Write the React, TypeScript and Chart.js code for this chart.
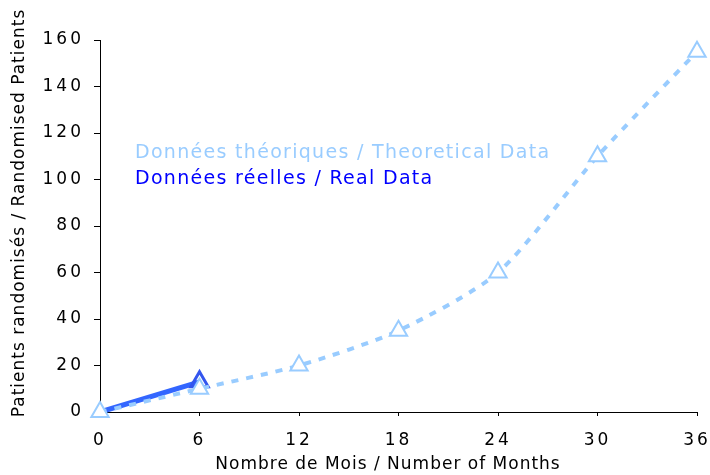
import React, { useEffect, useRef } from 'react';
import { Chart, registerables } from 'chart.js';

Chart.register(...registerables);

const months = [0, 6, 12, 18, 24, 30, 36];
const theoretical = [0, 10, 20, 35, 60, 110, 155];
const realMonths = [0, 6];
const realData = [0, 13];
const xTickValues = [0, 6, 12, 18, 24, 30, 36];
const yTickValues = [0, 20, 40, 60, 80, 100, 120, 140, 160];
const legendTheo = 'Données théoriques / Theoretical Data';
const legendReal = 'Données réelles / Real Data';
const xTitle = 'Nombre de Mois / Number of Months';
const yTitle = 'Patients randomisés / Randomised Patients';

const FONT = '"DejaVu Sans", Verdana, sans-serif';
const TICK_SPACING = '3px';

const textPlugin = {
  id: 'customText',
  beforeUpdate(chart: any) {
    chart.ctx.letterSpacing = TICK_SPACING;
  },
  beforeDraw(chart: any) {
    chart.ctx.letterSpacing = TICK_SPACING;
  },
  afterDraw(chart: any) {
    const ctx = chart.ctx as CanvasRenderingContext2D;
    ctx.save();
    ctx.textAlign = 'left';
    ctx.textBaseline = 'alphabetic';
    (ctx as any).letterSpacing = '1.3px';
    ctx.font = `19px ${FONT}`;
    ctx.fillStyle = '#99CCFF';
    ctx.fillText(legendTheo, 135, 158);
    ctx.fillStyle = '#0000FF';
    ctx.fillText(legendReal, 135, 183.5);

    (ctx as any).letterSpacing = '1px';
    ctx.fillStyle = '#000000';
    ctx.font = `17px ${FONT}`;
    ctx.textAlign = 'center';
    ctx.textBaseline = 'middle';
    ctx.fillText(xTitle, 388, 465);
    ctx.translate(20, 213);
    ctx.rotate(-Math.PI / 2);
    ctx.fillText(yTitle, 0, 0);
    ctx.restore();
    (ctx as any).letterSpacing = TICK_SPACING;
  },
};

export default function App() {
  const ref = useRef<HTMLCanvasElement>(null);
  useEffect(() => {
    document.body.style.margin = '0';
    const canvas = ref.current!;
    const chart = new Chart(canvas, {
      type: 'line',
      data: {
        datasets: [
          {
            label: legendTheo,
            data: months.map((m, i) => ({ x: m, y: theoretical[i] })),
            borderColor: '#99CCFF',
            borderWidth: 4,
            borderDash: [7, 8],
            tension: 0.25,
            clip: false,
            pointStyle: 'triangle',
            pointRadius: 10,
            pointBorderWidth: 2,
            pointBorderColor: '#99CCFF',
            pointBackgroundColor: '#FFFFFF',
            fill: false,
          },
          {
            label: legendReal,
            data: realMonths.map((m, i) => ({ x: m, y: realData[i] })),
            borderColor: '#3366FF',
            borderWidth: 5,
            tension: 0,
            clip: false,
            pointStyle: 'triangle',
            pointRadius: [0, 10],
            pointBorderWidth: 3,
            pointBorderColor: '#3355EE',
            pointBackgroundColor: 'rgba(0,0,0,0)',
            fill: false,
          },
        ],
      },
      options: {
        animation: false,
        responsive: false,
        devicePixelRatio: 1,
        layout: { padding: { top: 40, right: 11, left: 0, bottom: 0 } },
        plugins: {
          legend: { display: false },
          tooltip: { enabled: false },
          title: { display: false },
        },
        scales: {
          x: {
            type: 'linear',
            min: 0,
            max: 36,
            afterBuildTicks: (scale: any) => {
              scale.ticks = xTickValues.map((v) => ({ value: v }));
            },
            afterFit: (scale: any) => {
              scale.height = 63;
              scale.paddingLeft = 0;
              scale.paddingRight = 0;
            },
            grid: {
              display: true,
              drawOnChartArea: false,
              drawTicks: true,
              tickLength: 4,
              color: '#000000',
              lineWidth: 1,
            },
            border: { display: true, color: '#000000', width: 1 },
            ticks: {
              color: '#000000',
              font: { family: FONT, size: 17 },
              padding: 14,
              maxRotation: 0,
              autoSkip: false,
            },
          },
          y: {
            type: 'linear',
            min: 0,
            max: 160,
            afterBuildTicks: (scale: any) => {
              scale.ticks = yTickValues.map((v) => ({ value: v }));
            },
            afterFit: (scale: any) => {
              scale.width = 100;
              scale.paddingTop = 0;
              scale.paddingBottom = 0;
            },
            grid: {
              display: true,
              drawOnChartArea: false,
              drawTicks: true,
              tickLength: 6,
              color: '#000000',
              lineWidth: 1,
            },
            border: { display: true, color: '#000000', width: 1 },
            ticks: {
              color: '#000000',
              font: { family: FONT, size: 17 },
              padding: 10,
              autoSkip: false,
            },
          },
        },
      },
      plugins: [textPlugin],
    } as any);
    return () => chart.destroy();
  }, []);
  return (
    <div style={{ width: 710, height: 475 }}>
      <canvas ref={ref} width={710} height={475} style={{ display: 'block' }} />
    </div>
  );
}
